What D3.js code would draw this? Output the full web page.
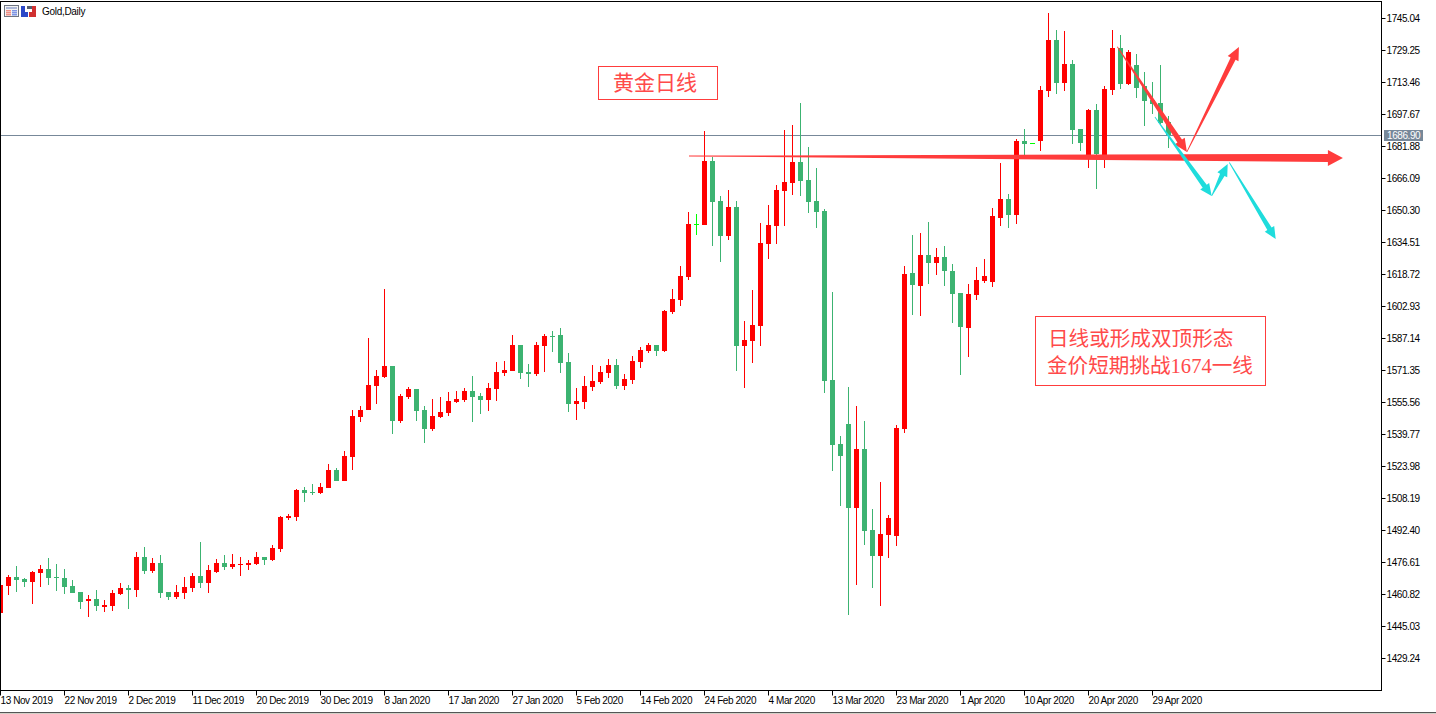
<!DOCTYPE html>
<html>
<head>
<meta charset="utf-8">
<title>Gold,Daily</title>
<script src="https://cdn.jsdelivr.net/npm/d3@7"></script>
<style>
html, body { margin: 0; padding: 0; background: #fff; overflow: hidden; }
svg { display: block; }
.axis text { font-family: "Liberation Sans", Arial, sans-serif; font-size: 10px; letter-spacing: -0.42px; fill: #000; }
.axis line { stroke: #000; }
</style>
</head>
<body>
<svg></svg>
<script>
'use strict';

var opens = [
    1451.7, 1465.0, 1469.5, 1468.5, 1467.0, 1471.4, 1473.4, 1469.5, 1469.0, 1465.0,
    1462.1, 1457.6, 1458.6, 1454.6, 1455.1, 1461.1, 1464.0, 1463.0, 1479.3, 1472.4,
    1476.4, 1462.1, 1459.6, 1461.6, 1464.0, 1470.0, 1466.5, 1471.9, 1476.4, 1474.4,
    1475.4, 1475.4, 1475.9, 1479.3, 1477.8, 1483.3, 1498.6, 1499.1, 1512.4, 1511.4,
    1510.9, 1513.4, 1522.3, 1516.8, 1528.7, 1548.4, 1551.9, 1563.7, 1568.1, 1573.6,
    1546.4, 1558.3, 1562.2, 1551.9, 1542.5, 1548.4, 1550.4, 1555.8, 1556.8, 1561.2,
    1558.8, 1556.8, 1562.2, 1570.1, 1571.1, 1583.9, 1570.6, 1569.6, 1583.4, 1588.4,
    1588.9, 1575.5, 1554.8, 1555.8, 1563.2, 1565.7, 1570.1, 1574.1, 1563.7, 1566.7,
    1575.5, 1581.0, 1583.9, 1581.0, 1600.2, 1606.1, 1617.5, 1643.6, 1643.1, 1674.7,
    1655.0, 1637.7, 1652.0, 1583.4, 1585.9, 1593.3, 1633.8, 1642.6, 1659.9, 1663.9,
    1674.2, 1665.4, 1655.0, 1650.1, 1566.7, 1535.1, 1545.0, 1503.5, 1532.6, 1492.7,
    1479.8, 1490.2, 1489.7, 1542.5, 1619.5, 1613.0, 1628.3, 1624.4, 1627.4, 1620.4,
    1609.6, 1592.3, 1608.6, 1615.5, 1615.0, 1646.6, 1656.0, 1648.1, 1684.6, 1683.4,
    1684.6, 1709.3, 1734.4, 1713.2, 1722.6, 1690.5, 1676.2, 1699.9, 1675.7, 1709.8,
    1730.5, 1712.7, 1722.1, 1711.7, 1704.8, 1703.3, 1694.0
];
var closes = [
    1465.5, 1469.5, 1468.0, 1467.0, 1471.9, 1473.4, 1469.0, 1469.0, 1464.5, 1461.6,
    1457.1, 1458.6, 1455.1, 1455.6, 1461.6, 1464.0, 1463.0, 1479.3, 1472.4, 1476.4,
    1461.6, 1459.6, 1462.1, 1464.5, 1470.0, 1466.5, 1472.9, 1476.4, 1474.4, 1475.9,
    1475.9, 1476.4, 1479.3, 1477.8, 1483.8, 1499.1, 1499.6, 1512.4, 1510.9, 1510.9,
    1513.9, 1522.3, 1516.8, 1529.2, 1548.9, 1551.9, 1564.2, 1568.6, 1573.6, 1546.4,
    1558.8, 1562.2, 1551.4, 1542.5, 1548.9, 1550.9, 1556.3, 1557.3, 1561.2, 1558.3,
    1556.8, 1562.7, 1570.6, 1571.6, 1583.9, 1570.1, 1569.6, 1583.9, 1588.4, 1587.9,
    1575.0, 1554.8, 1556.3, 1563.7, 1566.2, 1570.6, 1574.1, 1563.7, 1567.2, 1576.0,
    1581.5, 1583.9, 1581.0, 1600.7, 1606.6, 1618.0, 1643.6, 1643.6, 1674.7, 1654.5,
    1637.7, 1652.0, 1583.4, 1586.4, 1593.8, 1634.3, 1643.1, 1660.4, 1664.4, 1674.2,
    1664.9, 1654.5, 1649.6, 1566.2, 1534.6, 1529.2, 1503.5, 1532.6, 1492.2, 1479.8,
    1490.7, 1498.6, 1543.0, 1619.0, 1613.5, 1628.3, 1624.4, 1627.4, 1620.4, 1609.1,
    1592.8, 1609.1, 1616.0, 1618.0, 1647.6, 1656.0, 1648.1, 1684.6, 1683.1, 1683.4,
    1709.8, 1734.4, 1713.2, 1722.6, 1690.0, 1683.6, 1699.9, 1678.2, 1710.3, 1730.5,
    1712.7, 1728.5, 1710.8, 1704.3, 1702.9, 1693.5, 1687.6
];
var highs = [
    1465.5, 1470.4, 1474.9, 1469.0, 1472.4, 1475.4, 1478.8, 1475.9, 1473.4, 1468.0,
    1462.1, 1460.6, 1463.0, 1458.1, 1463.0, 1466.5, 1465.5, 1481.8, 1484.3, 1478.8,
    1480.3, 1462.1, 1465.5, 1469.5, 1471.4, 1486.7, 1475.4, 1478.3, 1480.3, 1480.8,
    1479.3, 1477.8, 1481.8, 1479.3, 1485.3, 1499.6, 1500.5, 1512.9, 1513.9, 1515.4,
    1515.8, 1525.2, 1523.2, 1531.6, 1551.9, 1553.8, 1587.4, 1571.6, 1611.6, 1573.6,
    1559.8, 1563.2, 1562.2, 1553.8, 1557.3, 1558.3, 1560.7, 1561.2, 1562.7, 1568.6,
    1560.2, 1565.2, 1575.5, 1576.0, 1588.9, 1583.9, 1574.6, 1585.4, 1589.4, 1590.8,
    1592.3, 1580.0, 1562.7, 1568.6, 1574.1, 1573.6, 1577.0, 1577.0, 1569.6, 1578.5,
    1582.9, 1584.9, 1583.9, 1601.2, 1611.6, 1622.9, 1649.6, 1648.6, 1689.5, 1676.7,
    1657.5, 1660.4, 1655.0, 1595.8, 1611.1, 1644.1, 1653.0, 1662.9, 1690.0, 1692.5,
    1703.3, 1681.6, 1671.3, 1651.0, 1610.1, 1539.0, 1563.2, 1553.8, 1546.4, 1503.0,
    1516.3, 1500.0, 1544.5, 1622.9, 1638.2, 1639.2, 1644.6, 1631.8, 1632.8, 1623.9,
    1609.6, 1614.0, 1622.4, 1626.4, 1651.5, 1673.7, 1658.4, 1685.6, 1690.5, 1683.4,
    1711.7, 1747.8, 1739.4, 1738.9, 1724.6, 1690.5, 1700.4, 1702.9, 1711.7, 1739.4,
    1736.9, 1729.5, 1727.5, 1718.6, 1713.7, 1722.1, 1696.9
];
var lows = [
    1451.7, 1460.6, 1462.1, 1464.5, 1456.1, 1464.5, 1465.5, 1462.5, 1461.1, 1461.6,
    1453.7, 1449.7, 1452.7, 1452.2, 1452.7, 1460.6, 1453.7, 1459.6, 1470.9, 1471.4,
    1459.1, 1458.1, 1458.6, 1458.6, 1462.1, 1464.0, 1461.6, 1471.4, 1472.9, 1473.4,
    1470.0, 1472.9, 1475.4, 1475.4, 1477.4, 1481.8, 1497.6, 1497.1, 1506.5, 1509.9,
    1510.4, 1513.4, 1516.8, 1516.8, 1522.3, 1545.9, 1551.9, 1554.8, 1567.7, 1540.0,
    1545.4, 1557.3, 1546.4, 1535.6, 1541.5, 1547.9, 1548.9, 1555.3, 1555.8, 1545.9,
    1549.9, 1551.4, 1556.3, 1568.6, 1571.1, 1567.2, 1563.2, 1568.6, 1570.6, 1580.5,
    1570.1, 1550.9, 1546.9, 1552.4, 1561.2, 1564.7, 1567.7, 1562.2, 1561.7, 1564.7,
    1572.6, 1580.0, 1578.5, 1580.5, 1599.2, 1603.2, 1616.0, 1638.2, 1643.1, 1632.8,
    1624.9, 1635.7, 1571.1, 1562.7, 1575.0, 1583.4, 1626.4, 1633.8, 1642.6, 1657.9,
    1657.5, 1649.1, 1641.7, 1560.2, 1521.8, 1504.5, 1450.7, 1465.5, 1485.3, 1464.0,
    1455.1, 1478.8, 1484.8, 1540.5, 1598.7, 1598.2, 1614.0, 1618.5, 1613.0, 1594.8,
    1569.1, 1578.0, 1606.1, 1614.5, 1612.5, 1642.6, 1641.7, 1643.6, 1677.7, 1683.4,
    1679.7, 1706.3, 1707.8, 1709.3, 1683.1, 1679.7, 1671.3, 1660.9, 1671.3, 1707.3,
    1710.3, 1712.2, 1705.8, 1692.0, 1697.9, 1693.0, 1681.1
];

var priceTicks = [1745.04, 1729.25, 1713.46, 1697.67, 1681.88, 1666.09, 1650.30, 1634.51, 1618.72, 1602.93,
    1587.14, 1571.35, 1555.56, 1539.77, 1523.98, 1508.19, 1492.40, 1476.61, 1460.82, 1445.03, 1429.24];
var dateTickBars = [0, 8, 16, 24, 32, 40, 48, 56, 64, 72, 80, 88, 96, 104, 112, 120, 128, 136, 144];
var dateTickLabels = ['13 Nov 2019', '22 Nov 2019', '2 Dec 2019', '11 Dec 2019', '20 Dec 2019', '30 Dec 2019',
    '8 Jan 2020', '17 Jan 2020', '27 Jan 2020', '5 Feb 2020', '14 Feb 2020', '24 Feb 2020', '4 Mar 2020',
    '13 Mar 2020', '23 Mar 2020', '1 Apr 2020', '10 Apr 2020', '20 Apr 2020', '29 Apr 2020'];

var bidLabel = '1686.90';
var bidLevel = 1687.2;

// hand drawn arrows, as [bar, price] start and tip
var redArrows = [
    [[139.6, 1731.1], [148.3, 1679.2]],
    [[148.3, 1679.2], [154.8, 1731.0]]
];
var cyanArrows = [
    [[144.3, 1696.4], [151.4, 1657.5]],
    [[151.4, 1657.5], [153.4, 1673.2]],
    [[153.6, 1674.0], [159.4, 1636.2]]
];
var levelArrow = [[86.06, 1677.2], [167.8, 1676.2]];

var SVG_SIZE = { width: 1436, height: 714 };
var PLOT = { left: 0, right: 1381, top: 1, bottom: 690 };
var RED = '#ff3c3c', CYAN = '#1fdcdc';

var svg = d3.select('svg')
    .attr('width', SVG_SIZE.width).attr('height', SVG_SIZE.height);

var xScale = d3.scaleLinear().domain([0, 146]).range([0.5, 1168.5]);
var yScale = d3.scaleLinear().domain([1745.04, 1429.24]).range([18.5, 658.5]);

svg.append('clipPath').attr('id', 'plotClip').append('rect')
    .attr('x', PLOT.left).attr('y', PLOT.top)
    .attr('width', PLOT.right - PLOT.left).attr('height', PLOT.bottom - PLOT.top);

var plot = svg.append('g').attr('clip-path', 'url(#plotClip)');

// bid line
plot.append('line')
    .attr('x1', PLOT.left).attr('x2', PLOT.right)
    .attr('y1', Math.floor(yScale(bidLevel)) + 0.5).attr('y2', Math.floor(yScale(bidLevel)) + 0.5)
    .attr('stroke', '#778899');

function candleColor(i) {
    if (closes[i] > opens[i]) return '#ff0000';
    if (closes[i] < opens[i]) return '#3cb371';
    return '#00ff00';
}

var candles = plot.selectAll('g.candle').data(d3.range(opens.length)).enter()
    .append('g').attr('class', 'candle');

candles.append('rect')
    .attr('x', function (i) { return xScale(i) - 0.5 })
    .attr('width', 1)
    .attr('y', function (i) { return Math.round(yScale(highs[i])) })
    .attr('height', function (i) { return Math.max(1, Math.round(yScale(lows[i])) - Math.round(yScale(highs[i]))) })
    .attr('fill', candleColor);

candles.append('rect')
    .attr('x', function (i) { return xScale(i) - 2.5 })
    .attr('width', 5)
    .attr('y', function (i) { return Math.round(yScale(Math.max(opens[i], closes[i]))) })
    .attr('height', function (i) {
        return Math.max(1, Math.round(yScale(Math.min(opens[i], closes[i]))) - Math.round(yScale(Math.max(opens[i], closes[i]))));
    })
    .attr('fill', candleColor);

// tapered arrow, from a thin tail to a wide shaft and a head
function arrowPath(a, shaftW, headLen, headW) {
    var x0 = xScale(a[0][0]), y0 = yScale(a[0][1]);
    var x1 = xScale(a[1][0]), y1 = yScale(a[1][1]);
    var len = Math.sqrt((x1 - x0) * (x1 - x0) + (y1 - y0) * (y1 - y0));
    var ux = (x1 - x0) / len, uy = (y1 - y0) / len;
    var nx = -uy, ny = ux;
    var bx = x1 - ux * headLen, by = y1 - uy * headLen;
    var pts = [
        [x0 + nx * 0.4, y0 + ny * 0.4],
        [bx + nx * shaftW / 2, by + ny * shaftW / 2],
        [bx + nx * headW / 2, by + ny * headW / 2],
        [x1, y1],
        [bx - nx * headW / 2, by - ny * headW / 2],
        [bx - nx * shaftW / 2, by - ny * shaftW / 2],
        [x0 - nx * 0.4, y0 - ny * 0.4]
    ];
    return 'M' + pts.join('L') + 'Z';
}

var notes = svg.append('g').attr('clip-path', 'url(#plotClip)');

notes.append('path').attr('d', arrowPath(levelArrow, 8, 15, 16)).attr('fill', RED);
redArrows.forEach(function (a) {
    notes.append('path').attr('d', arrowPath(a, 5.5, 13, 12)).attr('fill', RED);
});
cyanArrows.forEach(function (a) {
    notes.append('path').attr('d', arrowPath(a, 5, 12, 11)).attr('fill', CYAN);
});

// text boxes, latin digits come out serif like the original
function noteBox(x, y, w, h, lines) {
    notes.append('rect')
        .attr('x', x + 0.5).attr('y', y + 0.5).attr('width', w).attr('height', h)
        .attr('fill', '#fff').attr('stroke', RED);
    lines.forEach(function (l) {
        notes.append('text')
            .attr('x', l.x).attr('y', l.y)
            .attr('font-family', '"Liberation Serif", "Noto Sans CJK SC", serif')
            .attr('font-size', l.size)
            .attr('fill', '#ff4a4a')
            .text(l.text);
    });
}
noteBox(598, 66, 119, 33, [{ text: '黄金日线', x: 613, y: 90, size: 21 }]);
noteBox(1035, 316, 230, 69, [
    { text: '日线或形成双顶形态', x: 1048, y: 346, size: 20.6 },
    { text: '金价短期挑战1674一线', x: 1047, y: 373, size: 20.6 }
]);

// frame
svg.append('rect')
    .attr('x', 0.5).attr('y', 1.5).attr('width', PLOT.right).attr('height', PLOT.bottom - PLOT.top)
    .attr('fill', 'none').attr('stroke', '#000');
svg.append('rect').attr('x', 0).attr('y', 1).attr('width', 1).attr('height', PLOT.bottom - PLOT.top).attr('fill', '#000');

// axes
var yAxis = d3.axisRight(yScale).tickValues(priceTicks).tickSize(4).tickPadding(1).offset(0).tickFormat(d3.format('.2f'));
var yAxisG = svg.append('g').attr('class', 'axis')
    .attr('transform', 'translate(' + (PLOT.right + 0.5) + ',0)')
    .call(yAxis);
yAxisG.select('.domain').remove();

var xAxis = d3.axisBottom(xScale).tickValues(dateTickBars).tickSize(5).tickPadding(1).offset(0)
    .tickFormat(function (d) { return dateTickLabels[dateTickBars.indexOf(d)] });
var xAxisG = svg.append('g').attr('class', 'axis')
    .attr('transform', 'translate(0,' + (PLOT.bottom + 0.5) + ')')
    .call(xAxis);
xAxisG.select('.domain').remove();
xAxisG.selectAll('text').attr('text-anchor', 'start');

// bid label on the price axis
svg.append('rect').attr('x', 1384).attr('y', 130).attr('width', 39).attr('height', 11).attr('fill', '#778899');
svg.append('text')
    .attr('x', 1387).attr('y', 139)
    .attr('font-family', '"Liberation Sans", Arial, sans-serif')
    .attr('font-size', 10).attr('letter-spacing', '-0.42px')
    .attr('fill', '#fff')
    .text(bidLabel);

// chart title and the two small window icons
var icon = svg.append('g');
icon.append('rect').attr('x', 4.5).attr('y', 5.5).attr('width', 14).attr('height', 11).attr('fill', '#f4f4f4').attr('stroke', '#6f7480');
icon.append('rect').attr('x', 6).attr('y', 7).attr('width', 11).attr('height', 2).attr('fill', '#aeb8d8');
[10, 12, 14].forEach(function (y) {
    icon.append('rect').attr('x', 6).attr('y', y).attr('width', 5).attr('height', 1.5).attr('fill', '#ef8f86');
    icon.append('rect').attr('x', 12).attr('y', y).attr('width', 5).attr('height', 1.5).attr('fill', '#7f95e6');
});
icon.append('rect').attr('x', 21).attr('y', 6).attr('width', 4).attr('height', 11).attr('fill', '#2c48c8');
icon.append('rect').attr('x', 25).attr('y', 12).attr('width', 3).attr('height', 5).attr('fill', '#2c48c8');
icon.append('rect').attr('x', 29).attr('y', 12).attr('width', 3).attr('height', 5).attr('fill', '#d03030');
icon.append('rect').attr('x', 32).attr('y', 6).attr('width', 4).attr('height', 11).attr('fill', '#d03030');
icon.append('rect').attr('x', 27).attr('y', 6).attr('width', 5).attr('height', 3).attr('fill', '#555c70');

svg.append('text')
    .attr('x', 42).attr('y', 15)
    .attr('font-family', '"Liberation Sans", Arial, sans-serif')
    .attr('font-size', 10).attr('letter-spacing', '-0.3px')
    .attr('fill', '#000')
    .text('Gold,Daily');

// window edge at the bottom
svg.append('rect').attr('x', 0).attr('y', 712).attr('width', SVG_SIZE.width).attr('height', 1).attr('fill', '#555');
svg.append('rect').attr('x', 0).attr('y', 713).attr('width', SVG_SIZE.width).attr('height', 1).attr('fill', '#d4d0c8');
</script>
</body>
</html>
